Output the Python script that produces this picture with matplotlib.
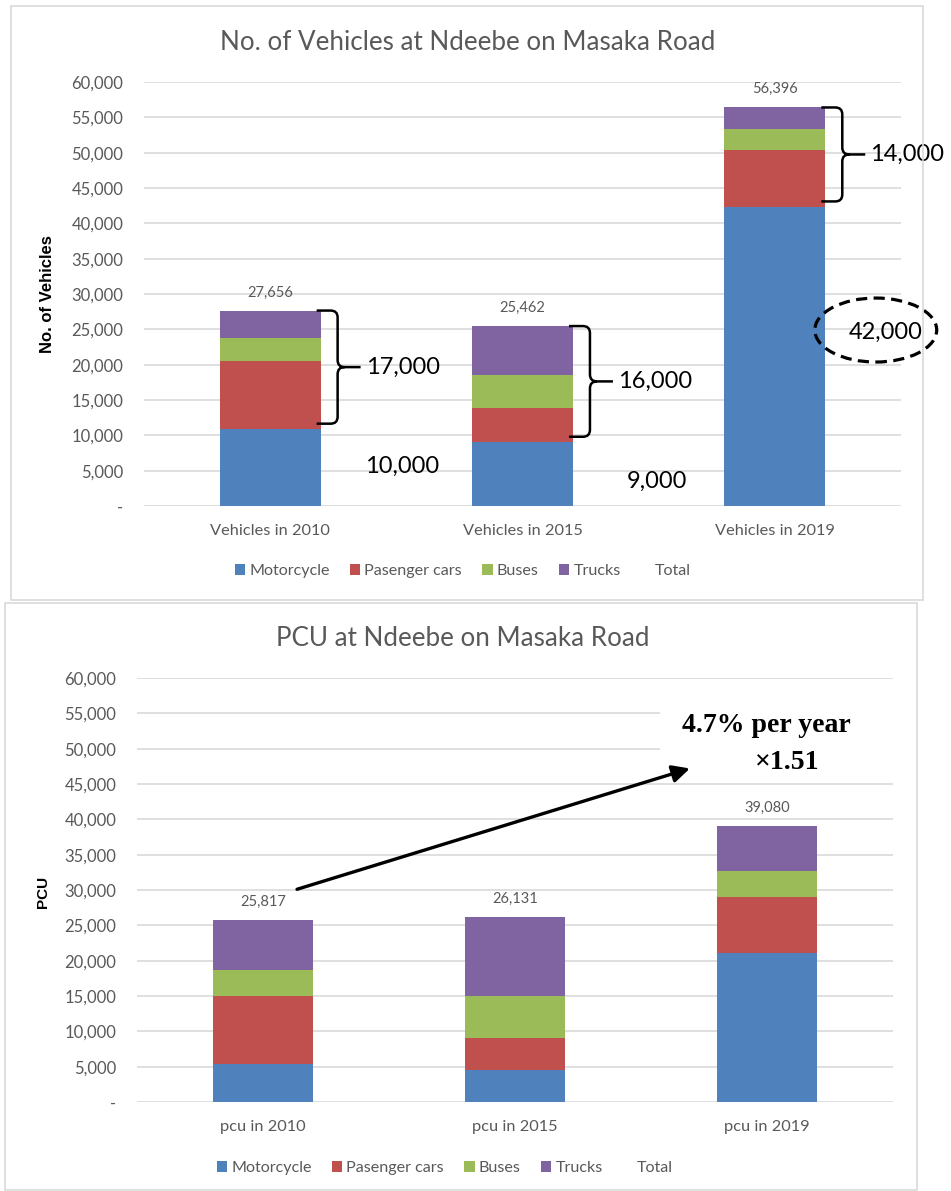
import matplotlib
matplotlib.use("Agg")
import matplotlib.pyplot as plt
from matplotlib.patches import Patch, Rectangle, Ellipse, PathPatch
from matplotlib.path import Path
from matplotlib.ticker import FixedLocator, FuncFormatter

plt.rcParams["font.family"] = ["Lato", "DejaVu Sans"]

# ---- data -----------------------------------------------------------
series = ["Motorcycle", "Pasenger cars", "Buses", "Trucks"]
colors = ["#4F81BD", "#C0504D", "#9BBB59", "#8064A2"]

veh_categories = ["Vehicles in 2010", "Vehicles in 2015", "Vehicles in 2019"]
veh_motorcycle = [10850, 9000, 42300]
veh_cars = [9650, 4800, 8050]
veh_buses = [3260, 4700, 2950]
veh_trucks = [3896, 6962, 3096]

pcu_categories = ["pcu in 2010", "pcu in 2015", "pcu in 2019"]
pcu_motorcycle = [5400, 4550, 21150]
pcu_cars = [9600, 4550, 7900]
pcu_buses = [3700, 5900, 3650]
pcu_trucks = [7117, 11131, 6380]

y_ticks = list(range(0, 60001, 5000))

# hand-written callouts on the vehicle chart
brace_notes = ["17,000", "16,000", "14,000"]
base_notes = ["10,000", "9,000"]
circled_note = "42,000"
growth_note = "4.7% per year"
factor_note = "\u00d71.51"

# ---- figure ---------------------------------------------------------
W, H = 951, 1191
fig = plt.figure(figsize=(W / 100, H / 100), dpi=100)
fig.patch.set_facecolor("white")

GRAY = "#595959"
GRID = "#d9d9d9"


def fx(px):
    return px / W


def fy(py):
    return 1 - py / H


def tick_fmt(v, _):
    return "-" if v == 0 else f"{int(v):,}"


def draw_stack(ax, cats, stacks):
    x = list(range(len(cats)))
    bottom = [0] * len(cats)
    cont = None
    for vals, col in zip(stacks, colors):
        cont = ax.bar(x, vals, width=0.4, bottom=bottom, color=col,
                      edgecolor="none", zorder=1)
        bottom = [b + v for b, v in zip(bottom, vals)]
    totals = bottom
    ax.bar_label(cont, labels=[f"{t:,}" for t in totals], padding=8,
                 fontsize=10.5, color=GRAY)
    ax.set_xlim(-0.5, 2.5)
    ax.set_ylim(0, 60000)
    ax.yaxis.set_major_locator(FixedLocator(y_ticks))
    ax.yaxis.set_major_formatter(FuncFormatter(tick_fmt))
    ax.set_xticks(x)
    ax.set_xticklabels(cats)
    ax.grid(axis="y", color=GRID, lw=1.2)
    ax.set_axisbelow(True)
    for s in ax.spines.values():
        s.set_visible(False)
    ax.tick_params(axis="both", length=0, colors=GRAY)
    ax.tick_params(axis="y", pad=15, labelsize=12)
    ax.tick_params(axis="x", pad=13, labelsize=11.8)
    return totals


def legend(center_x, center_y):
    handles = [Patch(facecolor=c, edgecolor="none", label=s)
               for s, c in zip(series, colors)]
    handles.append(Patch(facecolor="none", edgecolor="none", label="Total"))
    fig.legend(handles=handles, loc="center", ncol=5, frameon=False,
               bbox_to_anchor=(fx(center_x), fy(center_y)),
               fontsize=11.6, labelcolor=GRAY, handlelength=0.65,
               handleheight=0.65, handletextpad=0.25, columnspacing=1.25)


def brace(ax, xc, ylo, yhi, text):
    px = 1 / 252.5
    py = 60000 / 424
    x0 = xc + 0.2 - 4 * px
    xv = xc + 0.2 + 17 * px
    xt = xc + 0.2 + 40 * px
    ym = (ylo + yhi) / 2
    rx, ry = 7 * px, 7 * py
    verts = [
        (x0, yhi), (xv - rx, yhi), (xv, yhi), (xv, yhi - ry),
        (xv, ym + ry), (xv, ym), (xv + rx, ym), (xt, ym),
        (xv + rx, ym), (xv, ym), (xv, ym - ry),
        (xv, ylo + ry), (xv, ylo), (xv - rx, ylo), (x0, ylo),
    ]
    codes = [
        Path.MOVETO, Path.LINETO, Path.CURVE3, Path.CURVE3,
        Path.LINETO, Path.CURVE3, Path.CURVE3, Path.LINETO,
        Path.MOVETO, Path.CURVE3, Path.CURVE3,
        Path.LINETO, Path.CURVE3, Path.CURVE3, Path.LINETO,
    ]
    ax.add_patch(PathPatch(Path(verts, codes), fill=False, lw=1.8,
                           edgecolor="black", clip_on=False, zorder=5))
    ax.text(xt + 5 * px, ym, text, fontsize=17, color="black",
            ha="left", va="center", clip_on=False, zorder=5)


# ---- panel frames ---------------------------------------------------
fig.add_artist(Rectangle((fx(11), fy(600)), fx(912), 594 / H,
                         transform=fig.transFigure, fill=False,
                         edgecolor=GRID, lw=1.2))
fig.add_artist(Rectangle((fx(5), fy(1190)), fx(912), 587 / H,
                         transform=fig.transFigure, fill=False,
                         edgecolor=GRID, lw=1.2))

# ---- top chart: vehicles --------------------------------------------
ax1 = fig.add_axes([fx(144), fy(506), fx(757), 424 / H])
veh_stacks = [veh_motorcycle, veh_cars, veh_buses, veh_trucks]
veh_totals = draw_stack(ax1, veh_categories, veh_stacks)

fig.text(fx(468), fy(42), "No. of Vehicles at Ndeebe on Masaka Road",
         ha="center", va="center", fontsize=18.7, color=GRAY)
fig.text(fx(47), fy(294), "No. of Vehicles", rotation=90, ha="center",
         va="center", fontsize=12, fontweight="bold",
         family=["Liberation Sans", "DejaVu Sans"], color="black")
legend(463, 571)

for i, note in enumerate(brace_notes):
    brace(ax1, i, veh_motorcycle[i] + 800, veh_totals[i], note)

ax1.text(0.376, 5660, base_notes[0], fontsize=17, ha="left", va="center",
         zorder=5)
ax1.text(1.414, 3540, base_notes[1], fontsize=17, ha="left", va="center",
         zorder=5)
ax1.text(2.44, 24600, circled_note, fontsize=17, ha="center", va="center",
         zorder=5, clip_on=False)
ax1.add_patch(Ellipse((2.40, 24900), 0.483, 9056, fill=False,
                      edgecolor="black", lw=2.3, linestyle=(0, (3.5, 2)),
                      clip_on=False, zorder=5))

# ---- bottom chart: PCU ----------------------------------------------
ax2 = fig.add_axes([fx(137), fy(1102), fx(756), 424 / H])
pcu_stacks = [pcu_motorcycle, pcu_cars, pcu_buses, pcu_trucks]
draw_stack(ax2, pcu_categories, pcu_stacks)

fig.text(fx(463), fy(638), "PCU at Ndeebe on Masaka Road",
         ha="center", va="center", fontsize=18.7, color=GRAY)
fig.text(fx(43), fy(892), "PCU", rotation=90, ha="center", va="center",
         fontsize=11, fontweight="bold",
         family=["Liberation Sans", "DejaVu Sans"], color="black")
legend(445, 1168)

# growth callout with a white backing over the gridlines
ax2.add_patch(Rectangle((1.575, 45800), 0.98, 11100, facecolor="white",
                        edgecolor="none", zorder=2, clip_on=False))
ax2.annotate("", xy=(1.694, 47200), xytext=(0.135, 30100),
             arrowprops=dict(arrowstyle="-|>", lw=2.4, color="black",
                             mutation_scale=26, shrinkA=0, shrinkB=0),
             zorder=5, annotation_clip=False)
serif = ["Liberation Serif", "DejaVu Serif"]
ax2.text(1.996, 53300, growth_note, fontsize=20, fontweight="bold",
         family=serif, ha="center", va="center", zorder=6)
ax2.text(2.08, 48100, factor_note, fontsize=20, fontweight="bold",
         family=serif, ha="center", va="center", zorder=6)

fig.savefig("out.png", dpi=100, facecolor="white")
